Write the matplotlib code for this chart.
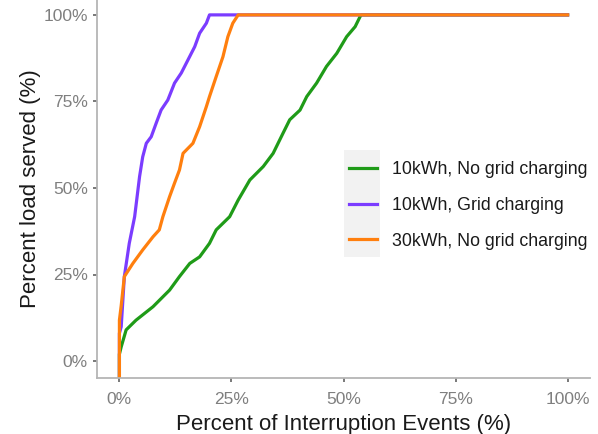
import matplotlib
matplotlib.use("Agg")
import matplotlib.pyplot as plt
from matplotlib.patches import Rectangle

plt.rcParams['font.family'] = ['Liberation Sans', 'DejaVu Sans']

# Data (percent of interruption events, percent load served)
green_x = [0, 0, 0.4, 1.5, 3.7, 7.5, 11.2, 13.4, 15.7, 17.9, 20.1, 21.6, 24.6, 26.5, 29.1,
           32.1, 34.3, 36.5, 38.0, 40.3, 41.8, 44.0, 46.2, 48.5, 50.7, 52.6, 53.7, 54.0, 100]
green_y = [-5, 2, 4.1, 9.0, 11.8, 15.7, 20.5, 24.4, 28.2, 30.1, 34.0, 37.9, 41.7, 46.5, 52.3,
           56.2, 60.0, 65.8, 69.7, 72.5, 76.4, 80.3, 85.1, 88.9, 93.7, 96.6, 99.5, 100, 100]

purple_x = [0, 0, 0.4, 1.1, 2.2, 3.4, 4.5, 5.2, 6.0, 7.1, 8.2, 9.3, 10.8, 12.3, 13.8, 15.3,
            16.8, 17.9, 19.4, 20.1, 100]
purple_y = [-5, 8.0, 9.9, 24.4, 34.0, 41.7, 53.3, 59.0, 62.9, 64.8, 68.7, 72.5, 75.4, 80.3, 83.2, 87.0,
            90.8, 94.7, 97.6, 100, 100]

orange_x = [0, 0, 0.4, 1.1, 3.0, 5.2, 7.5, 8.9, 9.7, 11.2, 12.3, 13.4, 14.2, 16.4, 17.9, 19.4,
            20.1, 21.6, 23.1, 24.2, 25.3, 26.5, 100]
orange_y = [-5, 11.8, 16.0, 24.4, 28.2, 32.1, 35.9, 37.9, 41.7, 47.5, 51.4, 55.2, 60.0, 62.9, 67.7, 73.5,
            76.4, 82.2, 87.9, 93.7, 97.6, 100, 100]

labels = ["10kWh, No grid charging", "10kWh, Grid charging", "30kWh, No grid charging"]
colors = ["#1f9b18", "#7b3cff", "#ff7f0e"]

ticks = [0, 25, 50, 75, 100]
tick_labels = ["0%", "25%", "50%", "75%", "100%"]

W, H = 598, 434
fig = plt.figure(figsize=(W / 100, H / 100), dpi=100)
ax = fig.add_axes([97 / W, (H - 378) / H, (590 - 97) / W, 378 / H])

lines = []
for xs, ys, c, lab in zip([green_x, purple_x, orange_x], [green_y, purple_y, orange_y], colors, labels):
    ln, = ax.plot(xs, ys, color=c, lw=2.3, label=lab, solid_joinstyle='round')
    lines.append(ln)

ax.set_xlim(-5, 105)
ax.set_ylim(-4.9, 104.3)
ax.set_xticks(ticks)
ax.set_xticklabels(tick_labels)
ax.set_yticks(ticks)
ax.set_yticklabels(tick_labels)

for s in ['top', 'right']:
    ax.spines[s].set_visible(False)
for s in ['left', 'bottom']:
    ax.spines[s].set_color('#b5b5b5')
    ax.spines[s].set_linewidth(1.3)

ax.tick_params(axis='both', length=3, width=1.1, color='#555555', labelcolor='#7f7f7f',
               labelsize=12.5, pad=3.5)
ax.tick_params(axis='x', pad=7)

ax.set_xlabel("Percent of Interruption Events (%)", fontsize=16, color='#1a1a1a', labelpad=5)
ax.set_ylabel("Percent load served (%)", fontsize=16, color='#1a1a1a', labelpad=2)

# legend key background
bg = Rectangle((344 / W, (H - 257) / H), (380 - 344) / W, (257 - 150) / H,
               transform=fig.transFigure, facecolor='#f2f2f2', edgecolor='none',
               zorder=0.5, clip_on=False)
ax.add_patch(bg)

leg = ax.legend(handles=lines, loc='center left', bbox_to_anchor=(349 / W, (H - 205.5) / H),
                bbox_transform=fig.transFigure, frameon=False, fontsize=12.8,
                handlelength=1.55, handletextpad=0.85, labelspacing=1.05, borderpad=0, borderaxespad=0)
leg.set_zorder(5)
for t in leg.get_texts():
    t.set_color('#1a1a1a')

fig.savefig("out.png", dpi=100)
